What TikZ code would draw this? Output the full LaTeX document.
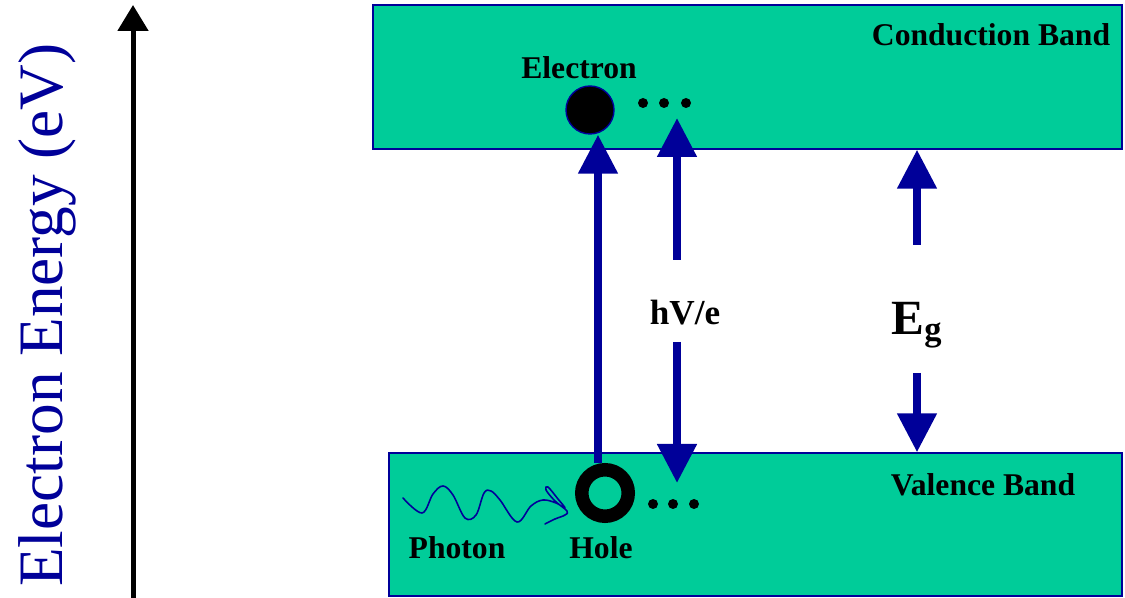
\documentclass[tikz,border=0pt]{standalone}
\usepackage{fontspec}
\setmainfont{Liberation Serif}
\usetikzlibrary{arrows.meta, positioning, calc}
\definecolor{cBand}{RGB}{0,204,153}
\definecolor{cNavy}{RGB}{0,0,153}
\tikzset{
	band/.style   ={rectangle, draw=cNavy, line width=0.8pt, fill=cBand, inner sep=0pt},
	lbl/.style    ={font=\fontsize{18}{21}\selectfont\bfseries, inner sep=0pt},
	elecdot/.style={circle, draw=cNavy, line width=0.8pt, fill=black, minimum size=0.96cm, inner sep=0pt},
	holering/.style={circle, draw=black, line width=0.27cm, minimum size=0.93cm, inner sep=0pt},
	trans/.style  ={-{Triangle[length=0.78cm, width=0.76cm]}, line width=0.16cm, draw=cNavy},
	axisarr/.style={-{Triangle[length=0.52cm, width=0.6cm]}, line width=0.1cm},
	wave/.style   ={draw=cNavy, line width=0.9pt, line cap=round, line join=round},
}
\begin{document}
\begin{tikzpicture}
	\useasboundingbox (0,0) rectangle (22.5,11.96);
	% energy axis
	\coordinate (ebot) at (2.66,0);
	\coordinate (etop) at (2.66,11.86);
	\draw[axisarr] (ebot) -- (etop);
	\node[rotate=90, text=cNavy, font=\fontsize{36}{40}\selectfont, inner sep=0pt] (eaxis) at (0.94,5.66) {Electron Energy (eV)};
	% bands
	\node[band, minimum width=14.98cm, minimum height=2.88cm] (cb) at (14.95,10.42) {};
	\node[band, minimum width=14.66cm, minimum height=2.86cm] (vb) at (15.11,1.47) {};
	\node[lbl] (cbl) at (19.82,11.26) {Conduction Band};
	\node[lbl] (vbl) at (19.66,2.26) {Valence Band};
	% carriers
	\node[elecdot] (elec) at (11.8,9.76) {};
	\node[holering] (hole) at (12.1,2.1) {};
	\node[lbl] (elecl) at (11.58,10.61) {Electron};
	\node[lbl] (holel) at (12.02,1.0) {Hole};
	\node[lbl] (photl) at (9.14,1.0) {Photon};
	\foreach \x in {12.86,13.28,13.72} \fill (\x,9.9) circle (0.1);
	\foreach \x in {13.06,13.46,13.88} \fill (\x,1.88) circle (0.1);
	% photon
	\draw[wave] plot[smooth, tension=0.6] coordinates {(8.06,2.0) (8.44,1.7) (8.66,2.08) (8.86,2.24) (9.06,2.06) (9.3,1.6) (9.52,1.66) (9.68,2.1) (9.82,2.14) (10.0,1.96) (10.34,1.52) (10.62,1.84) (10.86,1.96) (11.12,1.9) (11.3,1.8) (11.16,1.98) (10.96,2.22) (10.92,2.16) (11.1,1.94) (11.34,1.74) (11.3,1.66) (11.1,1.58) (10.9,1.48)};
	% transitions
	\draw[trans] ([xshift=-0.14cm]hole.north) -- ([xshift=-0.14cm]hole.north |- elec.south);
	\node[font=\fontsize{20}{24}\selectfont\bfseries, inner sep=0pt] (hv) at (13.7,5.7) {hV/e};
	\coordinate (hvtip) at (13.54,9.6);
	\coordinate (hvbot) at (13.54,2.3);
	\draw[trans] ([shift={(-0.16,1.06)}]hv.center) -- (hvtip);
	\draw[trans] ([shift={(-0.16,-0.58)}]hv.center) -- (hvbot);
	\node[font=\fontsize{28}{32}\selectfont\bfseries, inner sep=0pt] (eg) at (18.34,5.46) {E\textsubscript{g}};
	\draw[trans] ([yshift=1.6cm]eg.center) -- (eg.center |- cb.south);
	\draw[trans] ([yshift=-0.96cm]eg.center) -- (eg.center |- vb.north);
\end{tikzpicture}
\end{document}
